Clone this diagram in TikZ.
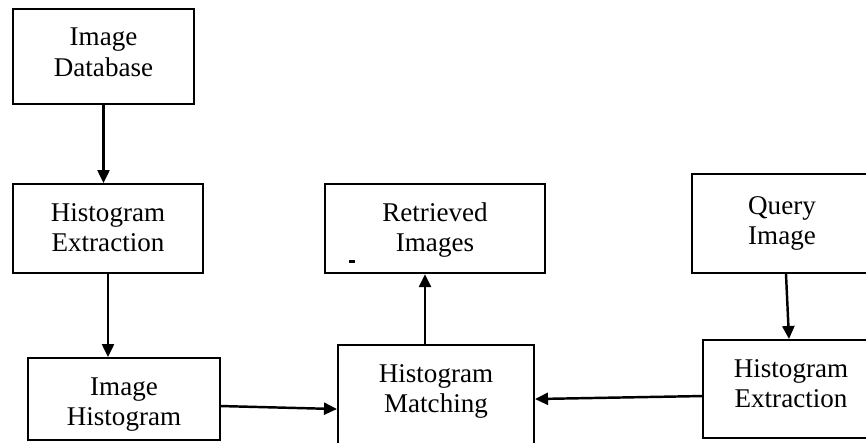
\documentclass[tikz,border=0pt]{standalone}
\usepackage{fontspec}
\setmainfont{Liberation Serif}
\usetikzlibrary{arrows.meta,positioning,calc}
\tikzset{
  blk/.style={draw=black, line width=1.2pt, inner sep=0pt, align=center, anchor=north,
              text height=1.34cm, font=\fontsize{15.4}{17.1}\selectfont},
  flow/.style={-{Triangle[length=0.26cm, width=0.24cm]}, line width=1.4pt, draw=black},
}

\begin{document}
\begin{tikzpicture}[x=0.02cm, y=-0.02cm]
    \useasboundingbox (0,0) rectangle (866,443);
    \clip (0,0) rectangle (866,443);
    % database side
    \node[blk, minimum width=3.62cm, text depth=0.56cm] (imgdb) at (103.5,8) {Image\\Database};
    \node[blk, minimum width=3.80cm, text depth=0.44cm] (histext) at (108,183) {Histogram\\Extraction};
    \node[blk, minimum width=3.84cm, text depth=0.30cm] (imghist) at (124,357) {Image\\Histogram};
    % middle
    \node[blk, minimum width=4.40cm, text depth=0.44cm] (retimg) at (435,183) {Retrieved\\Images};
    \node[blk, minimum width=3.92cm, text depth=0.82cm] (histmatch) at (436,344) {Histogram\\Matching};
    % query side
    \node[blk, minimum width=3.60cm, text height=1.40cm, text depth=0.58cm] (qryimg) at (782,173) {Query\\Image};
    \node[blk, minimum width=3.52cm, text depth=0.62cm] (qryext) at (791,339) {Histogram\\Extraction};
    \fill (349,260) rectangle (355,262.5);
    \draw[flow] (imgdb.south) -- (imgdb.south |- histext.north);
    \draw[flow] (histext.south) -- (histext.south |- imghist.north);
    \draw[flow] ($(imghist.east)+(0,7)$) -- ($(histmatch.west)+(0,10)$);
    \draw[flow] ($(qryext.west)+(0,7)$) -- (histmatch.east);
    \coordinate (up) at ($(histmatch.north)+(-11,0)$);
    \draw[flow] (up) -- (up |- retimg.south);
    \draw[flow] ($(qryimg.south)+(4,0)$) -- ($(qryext.north)+(-2,0)$);
  \end{tikzpicture}
\end{document}
